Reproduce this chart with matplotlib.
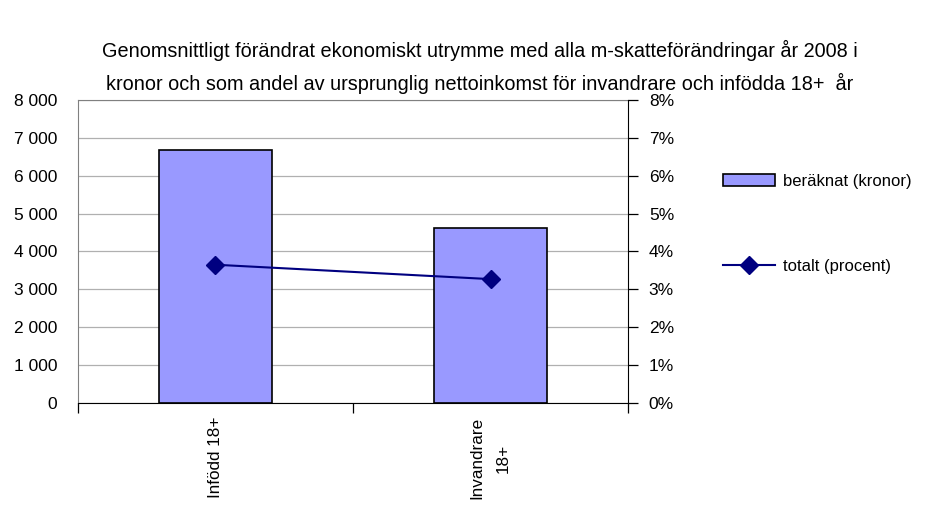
import matplotlib.pyplot as plt
from matplotlib.lines import Line2D
from matplotlib.patches import Patch

categories = ["Infödd 18+", "Invandrare\n18+"]
kronor = [6670, 4610]
procent = [3.65, 3.27]
left_ticks = [0, 1000, 2000, 3000, 4000, 5000, 6000, 7000, 8000]
right_ticks = [0, 1, 2, 3, 4, 5, 6, 7, 8]

title = ("Genomsnittligt förändrat ekonomiskt utrymme med alla m-skatteförändringar år 2008 i\n"
         "kronor och som andel av ursprunglig nettoinkomst för invandrare och infödda 18+  år")

plt.rcParams["font.family"] = ["Liberation Sans", "DejaVu Sans"]
plt.rcParams["font.size"] = 12.5

fig = plt.figure(figsize=(9.26, 5.08), dpi=100)
ax = fig.add_axes([0.0842, 0.2067, 0.5940, 0.5966])
ax2 = ax.twinx()

x = [0, 1]
ax.bar(x, kronor, width=0.41, color="#9999ff", edgecolor="black", linewidth=1.2, zorder=2)
ax.set_xlim(-0.5, 1.5)
ax.set_ylim(0, 8000)
ax.set_yticks(left_ticks)
ax.set_yticklabels([f"{v:,}".replace(",", " ") for v in left_ticks])
ax.yaxis.grid(True, color="#b0b0b0", linewidth=0.9, zorder=0)
ax.set_axisbelow(True)
ax.tick_params(axis="y", length=0, pad=15)
ax.set_xticks([-0.5, 0.5, 1.5], minor=False)
ax.set_xticklabels([])
ax.set_xticks(x, minor=True)
ax.set_xticklabels(categories, minor=True, rotation=90, va="top", ha="center",
                   multialignment="center", linespacing=1.95, fontsize=12.3)
ax.tick_params(axis="x", which="major", length=7, direction="out", width=0.9)
ax.tick_params(axis="x", which="minor", length=0, pad=10)
for side in ["top", "left"]:
    ax.spines[side].set_color("#808080")
ax.spines["bottom"].set_color("black")
ax.spines["right"].set_visible(False)

ax2.plot(x, procent, color="#000080", marker="D", markersize=9, linewidth=1.5, zorder=3)
ax2.set_ylim(0, 8)
ax2.set_yticks(right_ticks)
ax2.set_yticklabels([f"{v}%" for v in right_ticks])
ax2.tick_params(axis="y", length=7, direction="out", width=0.9, pad=8)
for side in ["top", "left", "bottom"]:
    ax2.spines[side].set_visible(False)
ax2.spines["right"].set_color("black")

fig.text(0.518, 0.921, title, ha="center", va="top", fontsize=14.3, linespacing=1.7)

handles = [Patch(facecolor="#9999ff", edgecolor="black", linewidth=1.2),
           Line2D([0], [0], color="#000080", marker="D", markersize=9, linewidth=1.5)]
fig.legend(handles, ["beräknat (kronor)", "totalt (procent)"], loc="center left",
           bbox_to_anchor=(0.781, 0.56), frameon=False, labelspacing=4.2,
           borderaxespad=0, borderpad=0,
           handlelength=3.1, handletextpad=0.5, fontsize=12)

fig.savefig("out.png", dpi=100)
